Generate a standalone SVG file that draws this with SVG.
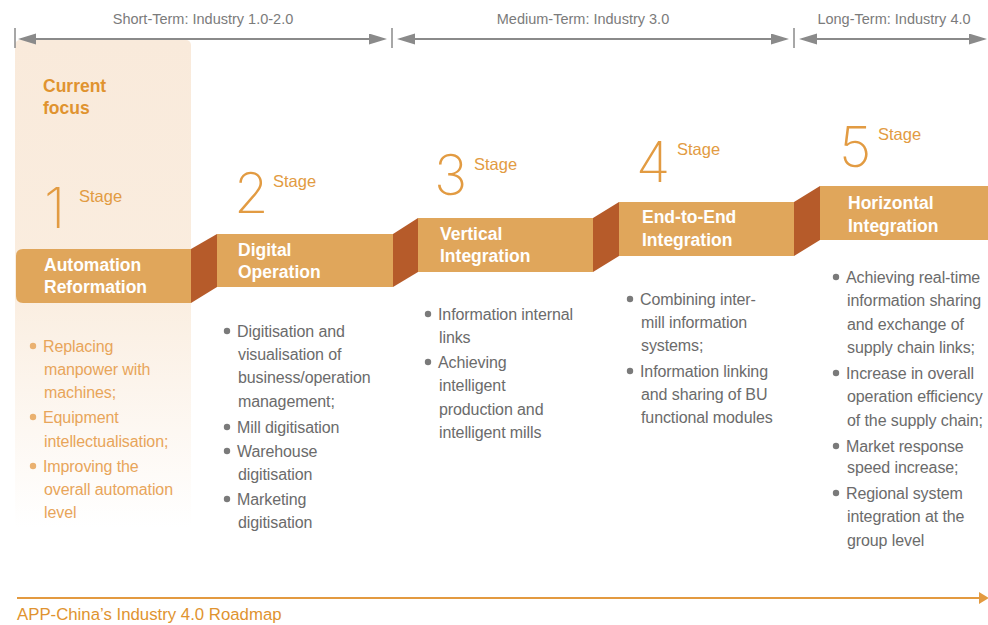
<svg xmlns="http://www.w3.org/2000/svg" width="988" height="625" viewBox="0 0 988 625">
<defs>
<linearGradient id="focusBg" x1="0" y1="0" x2="0" y2="1">
<stop offset="0" stop-color="#f9eadb"/>
<stop offset="0.5" stop-color="#faeddf"/>
<stop offset="1" stop-color="#ffffff"/>
</linearGradient>
<marker id="gArrow" markerUnits="userSpaceOnUse" markerWidth="20" markerHeight="12" refX="15" refY="5.5" orient="auto-start-reverse">
<path d="M0,0 L18,5.5 L0,11 z" fill="#8a8a8a"/>
</marker>
<marker id="oArrow" markerUnits="userSpaceOnUse" markerWidth="12" markerHeight="14" refX="1" refY="6" orient="auto">
<path d="M0,0 L10,6 L0,12 z" fill="#e39a40"/>
</marker>
<style>
.term{font-family:"Liberation Sans",Arial,sans-serif;font-size:14.5px;fill:#7b7b7b;text-anchor:middle}
.tick{stroke:#8a8a8a;stroke-width:1.5}
.span{stroke:#8a8a8a;stroke-width:2;fill:none}
.bar{fill:#e0a65b}
.ramp{fill:#b65b2a}
.num{font-family:Inter,Roboto,"Open Sans",sans-serif;font-weight:200;font-size:56px;fill:#e29b42}
.stage{font-family:"Liberation Sans",Arial,sans-serif;font-size:16.5px;fill:#e29b42}
.title{font-family:"Liberation Sans",Arial,sans-serif;font-weight:bold;font-size:17.5px;fill:#ffffff}
.focus{font-family:"Liberation Sans",Arial,sans-serif;font-weight:bold;font-size:17.5px;fill:#e0932f}
.item{font-family:"Liberation Sans",Arial,sans-serif;font-size:16px;fill:#6b6b6b;letter-spacing:-0.1px}
.item1{font-family:"Liberation Sans",Arial,sans-serif;font-size:16px;fill:#e8a55a;letter-spacing:-0.1px}
.dot{fill:#7a7a7a}
.dot1{fill:#eab170}
.caption{font-family:"Liberation Sans",Arial,sans-serif;font-size:16.8px;fill:#e0932f}
</style>
</defs>

<rect id="focus-bg" x="15" y="40" width="176" height="488" rx="5" fill="url(#focusBg)"/>

<g id="timeline">
<text class="term" x="203" y="24">Short-Term: Industry 1.0-2.0</text>
<text class="term" x="583" y="24">Medium-Term: Industry 3.0</text>
<text class="term" x="894" y="24">Long-Term: Industry 4.0</text>
<line class="tick" x1="15" y1="28" x2="15" y2="48"/>
<line class="tick" x1="392" y1="28" x2="392" y2="48"/>
<line class="tick" x1="794" y1="28" x2="794" y2="48"/>
<line class="span" x1="21" y1="39" x2="384" y2="39" marker-start="url(#gArrow)" marker-end="url(#gArrow)"/>
<line class="span" x1="400" y1="39" x2="786" y2="39" marker-start="url(#gArrow)" marker-end="url(#gArrow)"/>
<line class="span" x1="802" y1="39" x2="984" y2="39" marker-start="url(#gArrow)" marker-end="url(#gArrow)"/>
</g>

<g id="connectors">
<polygon class="ramp" points="191,249 217,234 217,287 191,303"/>
<polygon class="ramp" points="393,234 418,218 418,272 393,287"/>
<polygon class="ramp" points="593,218 619,202 619,256 593,272"/>
<polygon class="ramp" points="794,202 820,186 820,240 794,256"/>
<line x1="17" y1="598" x2="980" y2="598" stroke="#e39a40" stroke-width="2" marker-end="url(#oArrow)"/>
</g>

<g id="stage1">
<text class="focus" x="43" y="92">Current</text>
<text class="focus" x="43" y="114">focus</text>
<text class="num" x="44" y="228">1</text>
<text class="stage" x="79" y="202">Stage</text>
<path class="bar" d="M23,249 H191 V303 H23 Q16,303 16,296 V256 Q16,249 23,249 z"/>
<text class="title" x="44" y="271">Automation</text>
<text class="title" x="44" y="293">Reformation</text>
<circle class="dot1" cx="33" cy="346" r="3.2"/>
<text class="item1" x="43" y="352">Replacing</text>
<text class="item1" x="44" y="375">manpower with</text>
<text class="item1" x="44" y="398">machines;</text>
<circle class="dot1" cx="33" cy="417" r="3.2"/>
<text class="item1" x="43" y="423">Equipment</text>
<text class="item1" x="44" y="447">intellectualisation;</text>
<circle class="dot1" cx="33" cy="466" r="3.2"/>
<text class="item1" x="43" y="472">Improving the</text>
<text class="item1" x="44" y="495">overall automation</text>
<text class="item1" x="44" y="518">level</text>
</g>

<g id="stage2">
<text class="num" x="234" y="213">2</text>
<text class="stage" x="273" y="187">Stage</text>
<rect class="bar" x="217" y="234" width="176" height="53"/>
<text class="title" x="238" y="256">Digital</text>
<text class="title" x="238" y="278">Operation</text>
<circle class="dot" cx="227" cy="331" r="3.2"/>
<text class="item" x="237" y="337">Digitisation and</text>
<text class="item" x="238" y="360">visualisation of</text>
<text class="item" x="238" y="383">business/operation</text>
<text class="item" x="238" y="407">management;</text>
<circle class="dot" cx="227" cy="427" r="3.2"/>
<text class="item" x="237" y="433">Mill digitisation</text>
<circle class="dot" cx="227" cy="451" r="3.2"/>
<text class="item" x="237" y="457">Warehouse</text>
<text class="item" x="238" y="480">digitisation</text>
<circle class="dot" cx="227" cy="499" r="3.2"/>
<text class="item" x="237" y="505">Marketing</text>
<text class="item" x="238" y="528">digitisation</text>
</g>

<g id="stage3">
<text class="num" x="434" y="195">3</text>
<text class="stage" x="474" y="170">Stage</text>
<rect class="bar" x="418" y="218" width="175" height="54"/>
<text class="title" x="440" y="240">Vertical</text>
<text class="title" x="440" y="262">Integration</text>
<circle class="dot" cx="428" cy="314" r="3.2"/>
<text class="item" x="438" y="320">Information internal</text>
<text class="item" x="439" y="343">links</text>
<circle class="dot" cx="428" cy="362" r="3.2"/>
<text class="item" x="438" y="368">Achieving</text>
<text class="item" x="439" y="391">intelligent</text>
<text class="item" x="439" y="415">production and</text>
<text class="item" x="439" y="438">intelligent mills</text>
</g>

<g id="stage4">
<text class="num" x="636" y="182">4</text>
<text class="stage" x="677" y="155">Stage</text>
<rect class="bar" x="619" y="202" width="175" height="54"/>
<text class="title" x="642" y="223">End-to-End</text>
<text class="title" x="642" y="246">Integration</text>
<circle class="dot" cx="630" cy="299" r="3.2"/>
<text class="item" x="640" y="305">Combining inter-</text>
<text class="item" x="641" y="328">mill information</text>
<text class="item" x="641" y="351">systems;</text>
<circle class="dot" cx="630" cy="371" r="3.2"/>
<text class="item" x="640" y="377">Information linking</text>
<text class="item" x="641" y="400">and sharing of BU</text>
<text class="item" x="641" y="423">functional modules</text>
</g>

<g id="stage5">
<text class="num" x="839" y="167">5</text>
<text class="stage" x="878" y="140">Stage</text>
<rect class="bar" x="820" y="186" width="168" height="54"/>
<text class="title" x="848" y="209">Horizontal</text>
<text class="title" x="848" y="232">Integration</text>
<circle class="dot" cx="836" cy="277" r="3.2"/>
<text class="item" x="846" y="283">Achieving real-time</text>
<text class="item" x="847" y="306">information sharing</text>
<text class="item" x="847" y="330">and exchange of</text>
<text class="item" x="847" y="353">supply chain links;</text>
<circle class="dot" cx="836" cy="373" r="3.2"/>
<text class="item" x="846" y="379">Increase in overall</text>
<text class="item" x="847" y="402">operation efficiency</text>
<text class="item" x="847" y="426">of the supply chain;</text>
<circle class="dot" cx="836" cy="446" r="3.2"/>
<text class="item" x="846" y="452">Market response</text>
<text class="item" x="847" y="473">speed increase;</text>
<circle class="dot" cx="836" cy="493" r="3.2"/>
<text class="item" x="846" y="499">Regional system</text>
<text class="item" x="847" y="522">integration at the</text>
<text class="item" x="847" y="546">group level</text>
</g>

<text class="caption" x="17" y="620">APP-China’s Industry 4.0 Roadmap</text>
</svg>
